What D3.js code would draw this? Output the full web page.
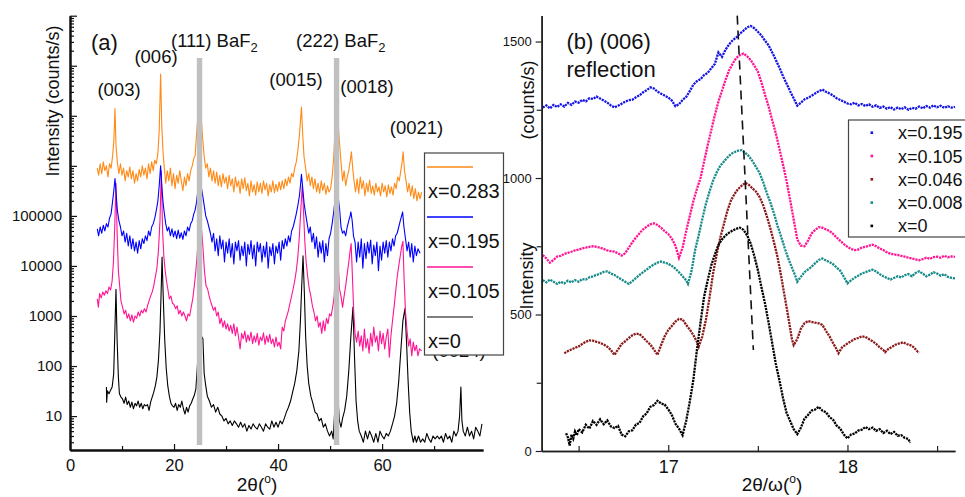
<!DOCTYPE html>
<html><head><meta charset="utf-8">
<script src="https://cdn.jsdelivr.net/npm/d3@7"></script>
<style>
body{margin:0;background:#fff;}
svg{font-family:"Liberation Sans",Arial,sans-serif;}
</style></head>
<body><svg id="c" width="965" height="497"></svg>
<script>
// ---------- Panel (a): XRD 2theta scans (log scale, offset) ----------
const xTicksA = [0, 20, 40, 60];
const xMinorA = [10, 30, 50, 70];
const yTicksA = [10, 100, 1000, 10000, 100000, 1e6, 1e7, 1e8, 1e9];
const baF2Lines = [24.9, 51.25];
const seriesNamesA = ["x=0.283", "x=0.195", "x=0.105", "x=0"];

const a283 = [[5.25,9e5],[5.5,6.5e5],[5.8,1.1e6],[6.1,7e5],[6.4,1.2e6],[6.7,8e5],[7.0,1e6],[7.3,6e5],[7.6,1.1e6],[7.9,9e5],[8.2,1.6e6],[8.45,3.5e6],[8.65,1.4e7],[8.85,2.5e6],[9.1,1.2e6],[9.4,7e5],[9.7,1.1e6],[10.0,6.5e5],[10.3,9e5],[10.6,5e5],[10.9,8e5],[11.2,6e5],[11.5,9.5e5],[11.8,5.5e5],[12.1,8e5],[12.4,4.5e5],[12.7,7e5],[13.0,5e5],[13.3,8.5e5],[13.6,6e5],[13.9,1e6],[14.2,6.5e5],[14.5,9e5],[14.8,5.5e5],[15.1,1.1e6],[15.4,7e5],[15.7,1.2e6],[16.0,8e5],[16.3,1.3e6],[16.6,1.1e6],[16.9,1.8e6],[17.15,5e6],[17.42,6.8e7],[17.65,6e6],[17.9,1.8e6],[18.1,1e6],[18.4,4.5e5],[18.7,8e5],[19.0,5e5],[19.3,9e5],[19.6,4e5],[19.9,7e5],[20.2,3.5e5],[20.5,6.5e5],[20.8,4.5e5],[21.1,8e5],[21.4,5e5],[21.7,3.2e5],[22.0,6e5],[22.3,4e5],[22.6,7e5],[22.9,5e5],[23.2,8e5],[23.5,1e6],[23.8,1.4e6],[24.05,1.6e6],[24.3,3.8e6],[24.9,3e7],[25.5,3.5e6],[25.8,1.5e6],[26.1,9e5],[26.4,1.1e6],[26.7,6e5],[27.0,9e5],[27.3,5e5],[27.6,8e5],[27.9,4.5e5],[28.2,7.5e5],[28.5,4e5],[28.8,6.5e5],[29.1,3.8e5],[29.4,7e5],[29.7,4.5e5],[30.0,6e5],[30.3,3.5e5],[30.6,6.5e5],[30.9,4e5],[31.2,5.5e5],[31.5,3e5],[31.8,6e5],[32.1,3.8e5],[32.4,5e5],[32.7,2.8e5],[33.0,5.5e5],[33.3,3.5e5],[33.6,5.8e5],[33.9,3.2e5],[34.2,4.5e5],[34.5,2.5e5],[34.8,5e5],[35.1,3e5],[35.4,4.2e5],[35.7,2.6e5],[36.0,4.8e5],[36.3,3e5],[36.6,4.5e5],[36.9,2.8e5],[37.2,5e5],[37.5,3.3e5],[37.8,4.5e5],[38.1,2.5e5],[38.4,4.2e5],[38.7,3e5],[39.0,5e5],[39.3,2.9e5],[39.6,4.3e5],[39.9,3.1e5],[40.2,4.8e5],[40.5,3.3e5],[40.8,5e5],[41.1,3.5e5],[41.4,5.5e5],[41.7,4e5],[42.0,6e5],[42.3,4.5e5],[42.6,7e5],[42.9,6e5],[43.2,9e5],[43.5,1.2e6],[43.8,2e6],[44.1,4e6],[44.5,1.5e7],[44.75,4e6],[45.0,1.5e6],[45.3,9e5],[45.6,5e5],[45.9,7e5],[46.2,4e5],[46.5,6e5],[46.8,3.5e5],[47.1,5.5e5],[47.4,3e5],[47.7,4.5e5],[48.0,2.8e5],[48.3,5e5],[48.6,3.2e5],[48.9,4.5e5],[49.2,2.7e5],[49.5,4e5],[49.8,3e5],[50.1,3.5e5],[50.4,6e5],[50.7,1.5e6],[51.25,2e7],[51.8,3e6],[52.1,1.2e6],[52.4,5e5],[52.7,8e5],[53.0,4e5],[53.3,6e5],[53.6,8e5],[53.9,1.3e6],[54.1,1.9e6],[54.35,9e5],[54.6,5e5],[54.9,3e5],[55.2,5.5e5],[55.5,2.8e5],[55.8,6e5],[56.1,3.5e5],[56.4,5e5],[56.7,2.5e5],[57.0,4.5e5],[57.3,3e5],[57.6,5.2e5],[57.9,2.8e5],[58.2,4e5],[58.5,2.6e5],[58.8,4.5e5],[59.1,3e5],[59.4,3.8e5],[59.7,2.5e5],[60.0,4.5e5],[60.3,3e5],[60.6,4e5],[60.9,2.4e5],[61.2,4.2e5],[61.5,2.8e5],[61.8,3.8e5],[62.1,2.6e5],[62.4,4.5e5],[62.7,3.5e5],[63.0,6e5],[63.3,5e5],[63.6,8e5],[63.85,1.2e6],[64.05,1.9e6],[64.3,8e5],[64.6,5e5],[64.9,3e5],[65.2,4.5e5],[65.5,2.5e5],[65.8,4e5],[66.1,2.2e5],[66.4,3.5e5],[66.7,2e5],[67.0,3e5],[67.3,2.2e5],[67.6,3e5]];

const a195 = [[5.25,5.5e4],[5.5,4e4],[5.8,6e4],[6.1,4.5e4],[6.4,6.5e4],[6.7,5e4],[7.0,7e4],[7.3,6e4],[7.6,9e4],[7.9,1.1e5],[8.15,1.8e5],[8.4,3e5],[8.65,5.6e5],[8.85,3e5],[9.1,1.3e5],[9.4,8e4],[9.7,6e4],[10.0,4e4],[10.3,5e4],[10.6,3e4],[10.9,4.5e4],[11.2,2.5e4],[11.5,4e4],[11.8,2.2e4],[12.1,3.5e4],[12.4,2e4],[12.7,3e4],[13.0,1.8e4],[13.3,3.2e4],[13.6,2.2e4],[13.9,3.5e4],[14.2,2.8e4],[14.5,4e4],[14.8,3.2e4],[15.1,5e4],[15.4,4e4],[15.7,6e4],[16.0,7e4],[16.3,9e4],[16.6,1.3e5],[16.9,2e5],[17.15,4e5],[17.42,1e6],[17.65,4e5],[17.9,1.8e5],[18.1,1.2e5],[18.4,7e4],[18.7,5e4],[19.0,6e4],[19.3,4e4],[19.6,5.5e4],[19.9,3.8e4],[20.2,5e4],[20.5,3.5e4],[20.8,5.2e4],[21.1,3.6e4],[21.4,4.6e4],[21.7,3.4e4],[22.0,5e4],[22.3,4e4],[22.6,6e4],[22.9,5e4],[23.2,7e4],[23.5,8e4],[23.8,1.1e5],[24.05,1.3e5],[24.3,1.8e5],[24.9,6e5],[25.5,2.6e5],[25.8,1.6e5],[26.1,1e5],[26.4,8e4],[26.7,6e4],[27.0,4.5e4],[27.3,3e4],[27.6,4.5e4],[27.9,2e4],[28.2,3.5e4],[28.5,1.6e4],[28.8,4e4],[29.1,2.2e4],[29.4,3.3e4],[29.7,1.2e4],[30.0,3e4],[30.3,1.8e4],[30.6,3.5e4],[30.9,1.5e4],[31.2,2.8e4],[31.5,1.1e4],[31.8,3e4],[32.1,2e4],[32.4,3.2e4],[32.7,1.3e4],[33.0,2.5e4],[33.3,1.6e4],[33.6,3e4],[33.9,1e4],[34.2,2.7e4],[34.5,1.7e4],[34.8,3.2e4],[35.1,1.4e4],[35.4,2.6e4],[35.7,1e4],[36.0,3e4],[36.3,1.9e4],[36.6,2.8e4],[36.9,1.2e4],[37.2,2.5e4],[37.5,1.5e4],[37.8,3e4],[38.1,9e3],[38.4,2.4e4],[38.7,1.6e4],[39.0,2.8e4],[39.3,1.1e4],[39.6,2.5e4],[39.9,1.8e4],[40.2,3e4],[40.5,1.3e4],[40.8,3.2e4],[41.1,2.2e4],[41.4,3.5e4],[41.7,2.5e4],[42.0,4e4],[42.3,3e4],[42.6,5e4],[42.9,6e4],[43.2,8e4],[43.5,1.1e5],[43.8,1.6e5],[44.1,2.5e5],[44.3,4e5],[44.5,6.8e5],[44.75,3.5e5],[45.0,1.8e5],[45.3,1.1e5],[45.6,7e4],[45.9,4.5e4],[46.2,6e4],[46.5,3e4],[46.8,4.5e4],[47.1,2.2e4],[47.4,3.8e4],[47.7,1.5e4],[48.0,3e4],[48.3,1.8e4],[48.6,3.2e4],[48.9,1.2e4],[49.2,2.8e4],[49.5,1.6e4],[49.8,3.5e4],[50.1,4.5e4],[50.4,7e4],[50.7,1.2e5],[51.25,4e5],[51.8,1.5e5],[52.1,6e4],[52.4,4.5e4],[52.7,5e4],[53.0,4e4],[53.3,6e4],[53.6,8e4],[53.85,1e5],[54.0,1.2e5],[54.25,8e4],[54.5,4e4],[54.8,3e4],[55.1,1.2e4],[55.4,3e4],[55.7,1.5e4],[56.0,3.5e4],[56.3,9e3],[56.6,2.8e4],[56.9,1.4e4],[57.2,3e4],[57.5,1.8e4],[57.8,3.3e4],[58.1,1.1e4],[58.4,2.6e4],[58.7,1.6e4],[59.0,3e4],[59.3,8e3],[59.6,2.5e4],[59.9,1.3e4],[60.2,3e4],[60.5,1.8e4],[60.8,3.2e4],[61.1,1.5e4],[61.4,3e4],[61.7,2e4],[62.0,3.5e4],[62.3,2.5e4],[62.6,4e4],[62.9,4.5e4],[63.2,6e4],[63.5,8e4],[63.75,1e5],[63.95,1.2e5],[64.2,6e4],[64.5,3.5e4],[64.8,2e4],[65.1,3e4],[65.4,1.5e4],[65.7,2.8e4],[66.0,1.2e4],[66.3,2.5e4],[66.6,1.6e4],[66.9,2.2e4],[67.3,1.8e4]];

const a105 = [[5.25,2.2e3],[5.45,1.5e3],[5.7,2.8e3],[6.0,2.3e3],[6.3,3e3],[6.6,2.6e3],[6.9,3.2e3],[7.2,2.8e3],[7.5,3.8e3],[7.8,3.3e3],[8.1,5e3],[8.35,1.2e4],[8.6,6e4],[8.84,4.5e5],[9.05,5e4],[9.3,8e3],[9.55,4e3],[9.8,2e3],[10.1,1.5e3],[10.4,1.1e3],[10.7,1.3e3],[11.0,9e2],[11.3,1.1e3],[11.6,8e2],[11.9,1.05e3],[12.2,7.5e2],[12.5,1e3],[12.8,9e2],[13.1,1.2e3],[13.4,1e3],[13.7,1.3e3],[14.0,1.15e3],[14.3,1.4e3],[14.6,1.2e3],[14.9,1.6e3],[15.2,2e3],[15.5,2.5e3],[15.8,3e3],[16.1,4e3],[16.4,6e3],[16.7,9e3],[17.0,2e4],[17.3,8e4],[17.55,8e5],[17.8,5e4],[18.05,1.5e4],[18.3,8e3],[18.55,5e3],[18.8,3.5e3],[19.1,2.2e3],[19.4,2.5e3],[19.7,1.8e3],[20.0,1.7e3],[20.3,1.4e3],[20.6,1.6e3],[20.9,1.1e3],[21.2,1.3e3],[21.5,1e3],[21.8,1.2e3],[22.1,1e3],[22.4,8e2],[22.7,1.1e3],[23.0,1e3],[23.3,1.5e3],[23.6,2.2e3],[23.9,4e3],[24.2,8e3],[24.5,2e4],[24.9,2e5],[25.25,6e4],[25.55,2.4e4],[25.85,8e3],[26.15,4e3],[26.45,3.5e3],[26.75,2.5e3],[27.0,2e3],[27.3,1.6e3],[27.6,1.3e3],[27.9,1.5e3],[28.2,1e3],[28.5,1.2e3],[28.8,7e2],[29.1,9e2],[29.4,6e2],[29.7,8e2],[30.0,5.5e2],[30.3,7e2],[30.6,5e2],[30.9,6.5e2],[31.2,4.5e2],[31.5,7e2],[31.8,4e2],[32.1,6e2],[32.4,3.8e2],[32.7,2.2e2],[33.0,4.5e2],[33.3,3.5e2],[33.6,5e2],[33.9,3e2],[34.2,4.2e2],[34.5,3.2e2],[34.8,4.8e2],[35.1,2.8e2],[35.4,4e2],[35.7,3e2],[36.0,4.5e2],[36.3,2.6e2],[36.6,3.8e2],[36.9,3.2e2],[37.2,4.6e2],[37.5,2.7e2],[37.8,4e2],[38.1,3e2],[38.4,4.3e2],[38.7,2.8e2],[39.0,3.5e2],[39.3,2.4e2],[39.6,3.8e2],[39.9,2.5e2],[40.2,3e2],[40.5,2.2e2],[40.8,6e2],[41.1,5e2],[41.4,8e2],[41.7,1e3],[42.0,1.3e3],[42.3,1.8e3],[42.6,2.5e3],[42.9,3.5e3],[43.2,5e3],[43.5,8e3],[43.8,1.5e4],[44.1,4e4],[44.4,1.5e5],[44.65,4e5],[44.9,1.2e5],[45.15,3e4],[45.4,1.2e4],[45.7,6e3],[46.0,3.5e3],[46.3,2.5e3],[46.6,1.6e3],[46.9,1.2e3],[47.2,8e2],[47.5,1e3],[47.8,6e2],[48.1,7.5e2],[48.4,4.5e2],[48.7,8e2],[49.0,5e2],[49.3,9e2],[49.6,7e2],[49.9,1.1e3],[50.2,1e3],[50.5,1.5e3],[50.8,2.5e3],[51.25,5e4],[51.8,3.5e3],[52.1,2.5e3],[52.4,1.5e3],[52.7,2.5e3],[53.0,4e3],[53.3,7e3],[53.6,1.2e4],[53.85,2e4],[54.05,2.8e4],[54.3,6e3],[54.55,1.2e3],[54.8,4.5e2],[55.1,3e2],[55.4,5e2],[55.7,2.5e2],[56.0,4e2],[56.3,2e2],[56.6,5.5e2],[56.9,2.3e2],[57.2,3.5e2],[57.5,1.8e2],[57.8,4.5e2],[58.1,2.5e2],[58.4,6e2],[58.7,3e2],[59.0,4e2],[59.3,2e2],[59.6,5e2],[59.9,2.8e2],[60.2,4.5e2],[60.5,2.2e2],[60.8,3.8e2],[61.1,5.5e2],[61.4,1.5e2],[61.7,4e2],[62.0,8e2],[62.3,1.5e3],[62.6,3e3],[62.9,6e3],[63.2,1e4],[63.5,1.6e4],[63.75,2.4e4],[64.0,3.1e4],[64.25,5e3],[64.5,1.2e3],[64.8,5e2],[65.1,2.5e2],[65.4,3.5e2],[65.7,1.6e2],[66.0,3e2],[66.3,2e2],[66.6,2.6e2],[66.9,1.6e2],[67.2,2.2e2],[67.6,2e2]];

const a0 = [[7.0,38],[7.05,19],[7.2,32],[7.5,28],[7.8,33],[8.1,38],[8.4,70],[8.6,400],[8.84,3400],[9.05,350],[9.3,60],[9.5,28],[9.8,24],[10.1,22],[10.4,18],[10.7,24],[11.0,17],[11.3,20],[11.6,15],[11.9,19],[12.2,14],[12.5,18],[12.8,16],[13.1,20],[13.4,15],[13.7,18],[14.0,14],[14.3,17],[14.6,16],[14.9,17],[15.2,13],[15.5,19],[15.8,24],[16.1,30],[16.4,40],[16.7,60],[17.0,130],[17.3,500],[17.52,3000],[17.7,15000],[17.92,2500],[18.2,350],[18.5,90],[18.8,40],[19.1,25],[19.4,18],[19.7,16],[20.0,15],[20.3,18],[20.6,13],[20.9,17],[21.2,15],[21.5,20],[21.8,14],[22.1,11],[22.4,15],[22.7,12],[23.0,16],[23.3,18],[23.6,22],[23.9,26],[24.2,35],[24.6,150],[24.9,1500],[25.25,400],[25.55,350],[25.8,70],[26.1,40],[26.4,25],[26.8,20],[27.2,15],[27.6,17],[28.0,12],[28.4,15],[28.8,11],[29.2,10],[29.6,8],[30.0,9],[30.4,7],[30.8,8],[31.2,6.5],[31.6,8],[32.0,7],[32.4,6],[32.8,7.5],[33.2,6],[33.6,7],[34.0,5],[34.4,6.5],[34.8,5.5],[35.2,7],[35.6,6],[36.0,5.5],[36.4,7],[36.8,6],[37.2,5],[37.6,7],[38.0,6],[38.4,5.5],[38.8,8],[39.2,6],[39.6,7.5],[40.0,6],[40.4,8],[40.8,7],[41.2,9],[41.6,12],[42.0,15],[42.4,20],[42.8,30],[43.2,45],[43.6,80],[44.0,200],[44.3,800],[44.55,4000],[44.8,16000],[45.05,3000],[45.3,400],[45.6,100],[45.9,45],[46.3,25],[46.7,18],[47.1,12],[47.5,11],[47.9,8],[48.3,9],[48.7,6],[49.1,7],[49.5,5],[49.9,4],[50.3,5],[50.6,3.5],[51.25,60],[51.8,8],[52.1,6],[52.4,9],[52.8,13],[53.2,25],[53.6,80],[54.0,400],[54.4,1500],[54.7,150],[55.0,20],[55.3,8],[55.6,5],[56.0,4],[56.4,3],[56.8,5],[57.2,3.5],[57.6,5],[58.0,4],[58.4,3],[58.8,4.5],[59.2,3],[59.6,5],[60.0,4],[60.4,3.5],[60.8,4.5],[61.2,4],[61.6,5],[62.0,7],[62.4,10],[62.8,18],[63.2,50],[63.6,200],[64.0,800],[64.4,1400],[64.7,300],[65.0,50],[65.3,12],[65.6,5],[66.0,3],[66.3,4],[66.6,3],[67.0,4],[67.4,3],[67.8,3.5],[68.2,3],[68.6,4.5],[69.0,3.5],[69.4,3],[69.8,4],[70.2,3.5],[70.6,4],[71.0,3.5],[71.4,4],[71.8,3],[72.2,4.5],[72.6,3.5],[73.0,4],[73.4,3],[73.8,5],[74.2,4],[74.6,5],[74.9,10],[75.15,38],[75.35,8],[75.6,5],[76.0,4],[76.4,6],[76.8,4],[77.2,5],[77.6,3.5],[78.0,6],[78.4,5],[78.8,4],[79.2,7]];

const peakLabelsA = ["(003)", "(006)", "(0015)", "(0018)", "(0021)"];

// ---------- Panel (b): (006) reflection 2theta/omega scans ----------
const xTicksB = [17, 18];
const xMinorB = [16.5, 17.5, 18.5];
const yTicksB = [0, 500, 1000, 1500];
const yMinorB = [250, 750, 1250];
const seriesNamesB = ["x=0.195", "x=0.105", "x=0.046", "x=0.008", "x=0"];
const peakGuideX = [17.385, 17.475];
const peakGuideY = [1595, 370];

const b195 = [[16.30,1258],[16.32,1266],[16.34,1255],[16.36,1268],[16.38,1260],[16.40,1270],[16.42,1262],[16.44,1275],[16.46,1268],[16.48,1280],[16.50,1276],[16.52,1286],[16.54,1281],[16.56,1292],[16.58,1290],[16.60,1298],[16.62,1291],[16.64,1284],[16.66,1276],[16.68,1266],[16.70,1259],[16.72,1265],[16.74,1272],[16.76,1280],[16.78,1285],[16.80,1287],[16.82,1296],[16.84,1303],[16.86,1314],[16.88,1322],[16.90,1332],[16.92,1328],[16.94,1316],[16.96,1309],[16.98,1302],[17.00,1295],[17.02,1284],[17.04,1263],[17.06,1270],[17.08,1286],[17.10,1297],[17.12,1318],[17.14,1342],[17.16,1355],[17.18,1362],[17.20,1377],[17.22,1385],[17.24,1402],[17.26,1418],[17.28,1460],[17.30,1444],[17.32,1470],[17.34,1490],[17.36,1505],[17.38,1515],[17.40,1529],[17.42,1540],[17.44,1552],[17.46,1557],[17.48,1549],[17.50,1536],[17.52,1522],[17.54,1503],[17.56,1486],[17.58,1460],[17.60,1433],[17.62,1405],[17.64,1374],[17.66,1346],[17.68,1318],[17.70,1292],[17.72,1265],[17.74,1276],[17.76,1288],[17.78,1294],[17.80,1301],[17.82,1310],[17.84,1318],[17.86,1324],[17.88,1316],[17.90,1310],[17.92,1302],[17.94,1292],[17.96,1286],[17.98,1280],[18.00,1273],[18.02,1270],[18.04,1276],[18.06,1266],[18.08,1271],[18.10,1264],[18.12,1270],[18.14,1261],[18.16,1266],[18.18,1257],[18.20,1262],[18.22,1254],[18.24,1260],[18.26,1251],[18.28,1258],[18.30,1252],[18.32,1259],[18.34,1250],[18.36,1257],[18.38,1254],[18.40,1262],[18.42,1255],[18.44,1264],[18.46,1258],[18.48,1266],[18.50,1259],[18.52,1265],[18.54,1257],[18.56,1263],[18.58,1258],[18.60,1261]];

const b105 = [[16.30,718],[16.32,705],[16.34,690],[16.36,700],[16.38,712],[16.40,715],[16.42,722],[16.44,726],[16.46,730],[16.48,735],[16.50,738],[16.52,742],[16.54,745],[16.56,748],[16.58,750],[16.60,748],[16.62,745],[16.64,740],[16.66,735],[16.68,732],[16.70,730],[16.72,724],[16.74,716],[16.76,725],[16.78,745],[16.80,765],[16.82,782],[16.84,798],[16.86,812],[16.88,822],[16.90,830],[16.92,834],[16.94,828],[16.96,818],[16.98,805],[17.00,795],[17.02,778],[17.04,752],[17.06,708],[17.08,745],[17.10,805],[17.12,860],[17.14,915],[17.16,960],[17.18,1000],[17.20,1060],[17.22,1120],[17.24,1175],[17.26,1230],[17.28,1280],[17.30,1320],[17.32,1360],[17.34,1395],[17.36,1420],[17.38,1440],[17.40,1450],[17.42,1456],[17.44,1446],[17.46,1432],[17.48,1412],[17.50,1390],[17.52,1350],[17.54,1305],[17.56,1262],[17.58,1212],[17.60,1164],[17.62,1108],[17.64,1050],[17.66,990],[17.68,920],[17.70,848],[17.72,775],[17.74,752],[17.76,750],[17.78,770],[17.80,797],[17.82,810],[17.84,820],[17.86,818],[17.88,812],[17.90,806],[17.92,795],[17.94,782],[17.96,770],[17.98,758],[18.00,748],[18.02,740],[18.04,736],[18.06,738],[18.08,745],[18.10,748],[18.12,752],[18.14,756],[18.16,750],[18.18,742],[18.20,736],[18.22,728],[18.24,723],[18.26,720],[18.28,718],[18.30,715],[18.32,712],[18.34,708],[18.36,705],[18.38,702],[18.40,699],[18.42,703],[18.44,708],[18.46,704],[18.48,710],[18.50,712],[18.52,708],[18.54,715],[18.56,710],[18.58,713],[18.60,711]];

const b046 = [[16.42,358],[16.44,366],[16.46,372],[16.48,378],[16.50,383],[16.52,392],[16.54,400],[16.56,405],[16.58,404],[16.60,400],[16.62,396],[16.64,390],[16.66,382],[16.68,370],[16.70,352],[16.72,372],[16.74,392],[16.76,402],[16.78,414],[16.80,424],[16.82,430],[16.84,428],[16.86,416],[16.88,402],[16.90,390],[16.92,372],[16.94,352],[16.96,388],[16.98,420],[17.00,443],[17.02,458],[17.04,474],[17.06,484],[17.08,482],[17.10,462],[17.12,445],[17.14,425],[17.16,400],[17.17,382],[17.19,420],[17.21,480],[17.23,560],[17.25,650],[17.27,720],[17.29,780],[17.31,830],[17.33,880],[17.35,918],[17.37,942],[17.39,960],[17.41,972],[17.43,982],[17.45,975],[17.47,962],[17.49,950],[17.51,930],[17.53,900],[17.55,860],[17.57,815],[17.59,765],[17.61,710],[17.63,640],[17.65,565],[17.67,490],[17.69,410],[17.70,388],[17.72,410],[17.74,448],[17.76,468],[17.78,476],[17.80,473],[17.82,470],[17.84,468],[17.86,462],[17.88,440],[17.90,420],[17.92,395],[17.94,372],[17.95,358],[17.97,380],[18.00,394],[18.02,402],[18.04,410],[18.06,414],[18.08,420],[18.10,418],[18.12,410],[18.14,402],[18.16,392],[18.18,380],[18.20,370],[18.21,362],[18.23,375],[18.25,382],[18.27,390],[18.29,394],[18.31,398],[18.33,392],[18.35,388],[18.37,380],[18.39,365],[18.40,360]];

const b008 = [[16.30,626],[16.32,618],[16.34,628],[16.36,620],[16.38,612],[16.40,620],[16.42,614],[16.44,624],[16.46,618],[16.48,626],[16.50,620],[16.52,630],[16.54,628],[16.56,636],[16.58,640],[16.60,645],[16.62,650],[16.64,656],[16.66,658],[16.68,650],[16.70,645],[16.72,636],[16.74,628],[16.76,620],[16.78,612],[16.80,622],[16.82,634],[16.84,645],[16.86,655],[16.88,665],[16.90,675],[16.92,683],[16.94,690],[16.96,694],[16.98,690],[17.00,686],[17.02,678],[17.04,668],[17.06,655],[17.08,640],[17.10,625],[17.11,612],[17.13,660],[17.15,736],[17.17,790],[17.19,850],[17.21,905],[17.23,950],[17.25,990],[17.27,1020],[17.29,1045],[17.31,1060],[17.33,1075],[17.35,1088],[17.37,1095],[17.39,1100],[17.41,1102],[17.43,1092],[17.45,1080],[17.47,1062],[17.49,1040],[17.51,1018],[17.53,985],[17.55,945],[17.57,910],[17.59,870],[17.61,825],[17.63,785],[17.65,743],[17.67,705],[17.69,672],[17.71,640],[17.72,620],[17.74,638],[17.76,655],[17.78,665],[17.80,675],[17.82,688],[17.84,700],[17.86,705],[17.88,698],[17.90,692],[17.92,684],[17.94,672],[17.96,660],[17.98,638],[18.00,614],[18.02,625],[18.04,635],[18.06,642],[18.08,650],[18.10,655],[18.12,660],[18.14,664],[18.16,658],[18.18,648],[18.20,640],[18.22,634],[18.24,628],[18.26,634],[18.28,640],[18.30,636],[18.32,644],[18.34,648],[18.36,640],[18.38,652],[18.40,658],[18.42,650],[18.44,640],[18.46,646],[18.48,655],[18.50,650],[18.52,642],[18.54,648],[18.56,638],[18.58,634],[18.60,632]];

const b0 = [[16.43,65],[16.44,50],[16.45,20],[16.46,60],[16.47,45],[16.48,72],[16.49,58],[16.50,80],[16.52,68],[16.54,96],[16.56,82],[16.58,110],[16.60,96],[16.62,116],[16.64,98],[16.66,112],[16.68,90],[16.70,84],[16.72,92],[16.74,60],[16.76,54],[16.78,72],[16.80,76],[16.82,97],[16.84,103],[16.86,127],[16.88,138],[16.90,162],[16.92,168],[16.94,184],[16.96,174],[16.98,170],[17.00,153],[17.02,132],[17.04,100],[17.06,82],[17.08,58],[17.10,110],[17.12,180],[17.14,260],[17.16,370],[17.18,470],[17.20,565],[17.22,625],[17.24,680],[17.26,720],[17.28,755],[17.30,775],[17.32,790],[17.34,800],[17.36,808],[17.38,814],[17.40,818],[17.42,810],[17.44,790],[17.46,760],[17.48,715],[17.50,663],[17.52,600],[17.54,540],[17.56,470],[17.58,395],[17.60,320],[17.62,260],[17.64,195],[17.66,140],[17.68,110],[17.70,80],[17.72,62],[17.74,85],[17.76,118],[17.78,132],[17.80,148],[17.82,152],[17.84,162],[17.86,148],[17.88,142],[17.90,124],[17.92,114],[17.94,93],[17.96,82],[17.98,60],[18.00,46],[18.02,60],[18.04,64],[18.06,75],[18.08,78],[18.10,88],[18.12,80],[18.14,86],[18.16,74],[18.18,80],[18.20,66],[18.22,74],[18.24,62],[18.26,70],[18.28,56],[18.30,58],[18.32,48],[18.34,44],[18.35,30]];

// ---------- drawing ----------
const svg = d3.select("#c");
const FONT = "'Liberation Sans', Arial, sans-serif";

// Panel (a) scales
const xA = d3.scaleLinear().domain([0, 79.4]).range([70, 483]);
const yA = d3.scaleLog().domain([2.1, 1e9]).range([450, 15.7]);

const colorsA = ["#FF8A16", "#0000FF", "#FF1493", "#000000"];
const legendColorsA = ["#FF8A16", "#0000FF", "#FF1493", "#555555"];
const dataA = [a283, a195, a105, a0];

const lineA = d3.line().x(d => xA(d[0])).y(d => yA(d[1]));
const gA = svg.append("g");
[3, 2, 1, 0].forEach(i => {
  gA.append("path").datum(dataA[i]).attr("d", lineA)
    .attr("fill", "none").attr("stroke", colorsA[i]).attr("stroke-width", 1.1)
    .attr("stroke-linejoin", "round");
});

// BaF2 substrate bars
gA.selectAll("rect.baf").data(baF2Lines).enter().append("rect")
  .attr("x", d => xA(d - 0.52)).attr("width", d => xA(d + 0.52) - xA(d - 0.52))
  .attr("y", 58).attr("height", 445 - 58).attr("fill", "#C0C0C0");

// axes panel a
const axA = svg.append("g").attr("font-family", FONT);
const yAxA = axA.append("g").attr("transform", "translate(70,0)")
  .call(d3.axisLeft(yA).tickValues(yTicksA).tickSize(-7).tickSizeOuter(0).tickPadding(8)
    .tickFormat(d => d <= 1e5 ? d3.format("d")(d) : ""));
const minorY = [];
for (let e = 0; e < 9; e++) for (let m = 2; m <= 9; m++) { const v = m * Math.pow(10, e); if (v >= 2.1 && v <= 1e9) minorY.push(v); }
axA.append("g").attr("transform", "translate(70,0)")
  .call(d3.axisLeft(yA).tickValues(minorY).tickSize(-4).tickSizeOuter(0).tickFormat(""));
const xAxA = axA.append("g").attr("transform", "translate(0,450)")
  .call(d3.axisBottom(xA).tickValues(xTicksA).tickSize(-6).tickSizeOuter(0).tickPadding(9)
    .tickFormat(d3.format("d")));
axA.append("g").attr("transform", "translate(0,450)")
  .call(d3.axisBottom(xA).tickValues(xMinorA).tickSize(-4).tickSizeOuter(0).tickFormat(""));
axA.selectAll("text").attr("font-family", FONT).attr("fill", "#111");
yAxA.selectAll("text").attr("font-size", 15);
xAxA.selectAll("text").attr("font-size", 16.5);
axA.selectAll(".domain").attr("stroke-width", 2).attr("stroke", "#111");
axA.selectAll(".tick line").attr("stroke-width", 1.2).attr("stroke", "#111");

// texts panel a
function txt(x, y, s, size, anchor) {
  return svg.append("text").attr("x", x).attr("y", y).attr("font-family", FONT)
    .attr("font-size", size).attr("fill", "#111").attr("text-anchor", anchor || "start").text(s);
}
svg.append("text").attr("transform", "translate(59,101) rotate(-90)").attr("text-anchor", "middle")
  .attr("font-family", FONT).attr("font-size", 18).attr("fill", "#111").text("Intensity (counts/s)");
txt(91, 50, "(a)", 22);
const peakLabelPos = [[119, 96], [156, 63], [296, 86], [367, 93], [416.5, 134]];
peakLabelsA.forEach((s, i) => txt(peakLabelPos[i][0], peakLabelPos[i][1], s, 18.5, "middle"));
const t111 = txt(171, 47, "(111) BaF", 18.5);
t111.append("tspan").attr("font-size", 13).attr("dy", 5).text("2");
const t222 = txt(296, 47, "(222) BaF", 18.5);
t222.append("tspan").attr("font-size", 13).attr("dy", 5).text("2");
// label mostly hidden under the legend (only its lower edge shows)
txt(459, 356.5, "(0024)", 18.5, "middle");
const xtA = txt(257, 490.5, "2θ(", 19, "middle");
xtA.append("tspan").attr("font-size", 12).attr("dy", -8).text("o");
xtA.append("tspan").attr("dy", 8).text(")");

// legend panel a
const legA = svg.append("g");
legA.append("rect").attr("x", 424.5).attr("y", 153).attr("width", 79).attr("height", 202)
  .attr("fill", "#fff").attr("stroke", "#444").attr("stroke-width", 1.2);
seriesNamesA.forEach((n, i) => {
  const y0 = 167 + i * 50;
  legA.append("line").attr("x1", 427).attr("x2", 473).attr("y1", y0).attr("y2", y0)
    .attr("stroke", legendColorsA[i]).attr("stroke-width", 1.3);
  legA.append("text").attr("x", 428).attr("y", y0 + 31).attr("font-family", FONT)
    .attr("font-size", 20).attr("fill", "#111").text(n);
});

// Panel (b) scales
const xB = d3.scaleLinear().domain([16.294, 18.6]).range([541.7, 955]);
const yB = d3.scaleLinear().domain([0, 1595]).range([451, 15.6]);
const colorsB = ["#1414E6", "#FF1493", "#8B1A1A", "#178A8A", "#000000"];
const dataB = [b195, b105, b046, b008, b0];
const lineB = d3.line().x(d => xB(d[0])).y(d => yB(d[1]));
const gB = svg.append("g");
dataB.forEach((ds, i) => {
  gB.append("path").datum(ds).attr("d", lineB).attr("fill", "none")
    .attr("stroke", colorsB[i]).attr("stroke-width", 2.3)
    .attr("stroke-dasharray", "2.2 0.9");
});
// peak position guide (dashed)
gB.append("path").datum(d3.zip(peakGuideX, peakGuideY)).attr("d", lineB)
  .attr("fill", "none").attr("stroke", "#111").attr("stroke-width", 1.6).attr("stroke-dasharray", "9 6");

// axes panel b
const axB = svg.append("g");
const yAxB = axB.append("g").attr("transform", "translate(541.7,0)")
  .call(d3.axisLeft(yB).tickValues(yTicksB).tickSize(6).tickSizeOuter(0).tickPadding(4)
    .tickFormat(d3.format("d")));
axB.append("g").attr("transform", "translate(541.7,0)")
  .call(d3.axisLeft(yB).tickValues(yMinorB).tickSize(5).tickSizeOuter(0).tickFormat(""));
const xAxB = axB.append("g").attr("transform", "translate(0,451)")
  .call(d3.axisBottom(xB).tickValues(xTicksB).tickSize(-6).tickSizeOuter(0).tickPadding(9.5)
    .tickFormat(d3.format("d")));
axB.append("g").attr("transform", "translate(0,451)")
  .call(d3.axisBottom(xB).tickValues(xMinorB).tickSize(-5).tickSizeOuter(0).tickFormat(""));
axB.selectAll("text").attr("font-family", FONT).attr("fill", "#111");
yAxB.selectAll("text").attr("font-size", 13);
xAxB.selectAll("text").attr("font-size", 18);
axB.selectAll(".domain").attr("stroke-width", 1.6).attr("stroke", "#222");
axB.selectAll(".tick line").attr("stroke-width", 1.2).attr("stroke", "#222");

// texts panel b
svg.append("text").attr("transform", "translate(534,100) rotate(-90)").attr("text-anchor", "middle")
  .attr("font-family", FONT).attr("font-size", 18).attr("fill", "#111").text("(counts/s)");
svg.append("text").attr("transform", "translate(533,276) rotate(-90)").attr("text-anchor", "middle")
  .attr("font-family", FONT).attr("font-size", 18).attr("fill", "#111").text("Intensity");
txt(566.5, 49, "(b) (006)", 22);
txt(566.5, 77, "reflection", 22);
const xtB = txt(772, 491, "2θ/ω(", 19, "middle");
xtB.append("tspan").attr("font-size", 12).attr("dy", -8).text("o");
xtB.append("tspan").attr("dy", 8).text(")");

// legend panel b
const legB = svg.append("g");
legB.append("rect").attr("x", 848.5).attr("y", 120).attr("width", 130).attr("height", 117)
  .attr("fill", "#fff").attr("stroke", "#444").attr("stroke-width", 1.2);
seriesNamesB.forEach((n, i) => {
  const y0 = 132.7 + i * 23.3;
  legB.append("rect").attr("x", 870.5).attr("y", y0 - 1.3).attr("width", 2.6).attr("height", 2.6)
    .attr("fill", colorsB[i]);
  legB.append("text").attr("x", 898).attr("y", y0 + 6.5).attr("font-family", FONT)
    .attr("font-size", 18).attr("fill", "#111").text(n);
});
</script></body></html>
